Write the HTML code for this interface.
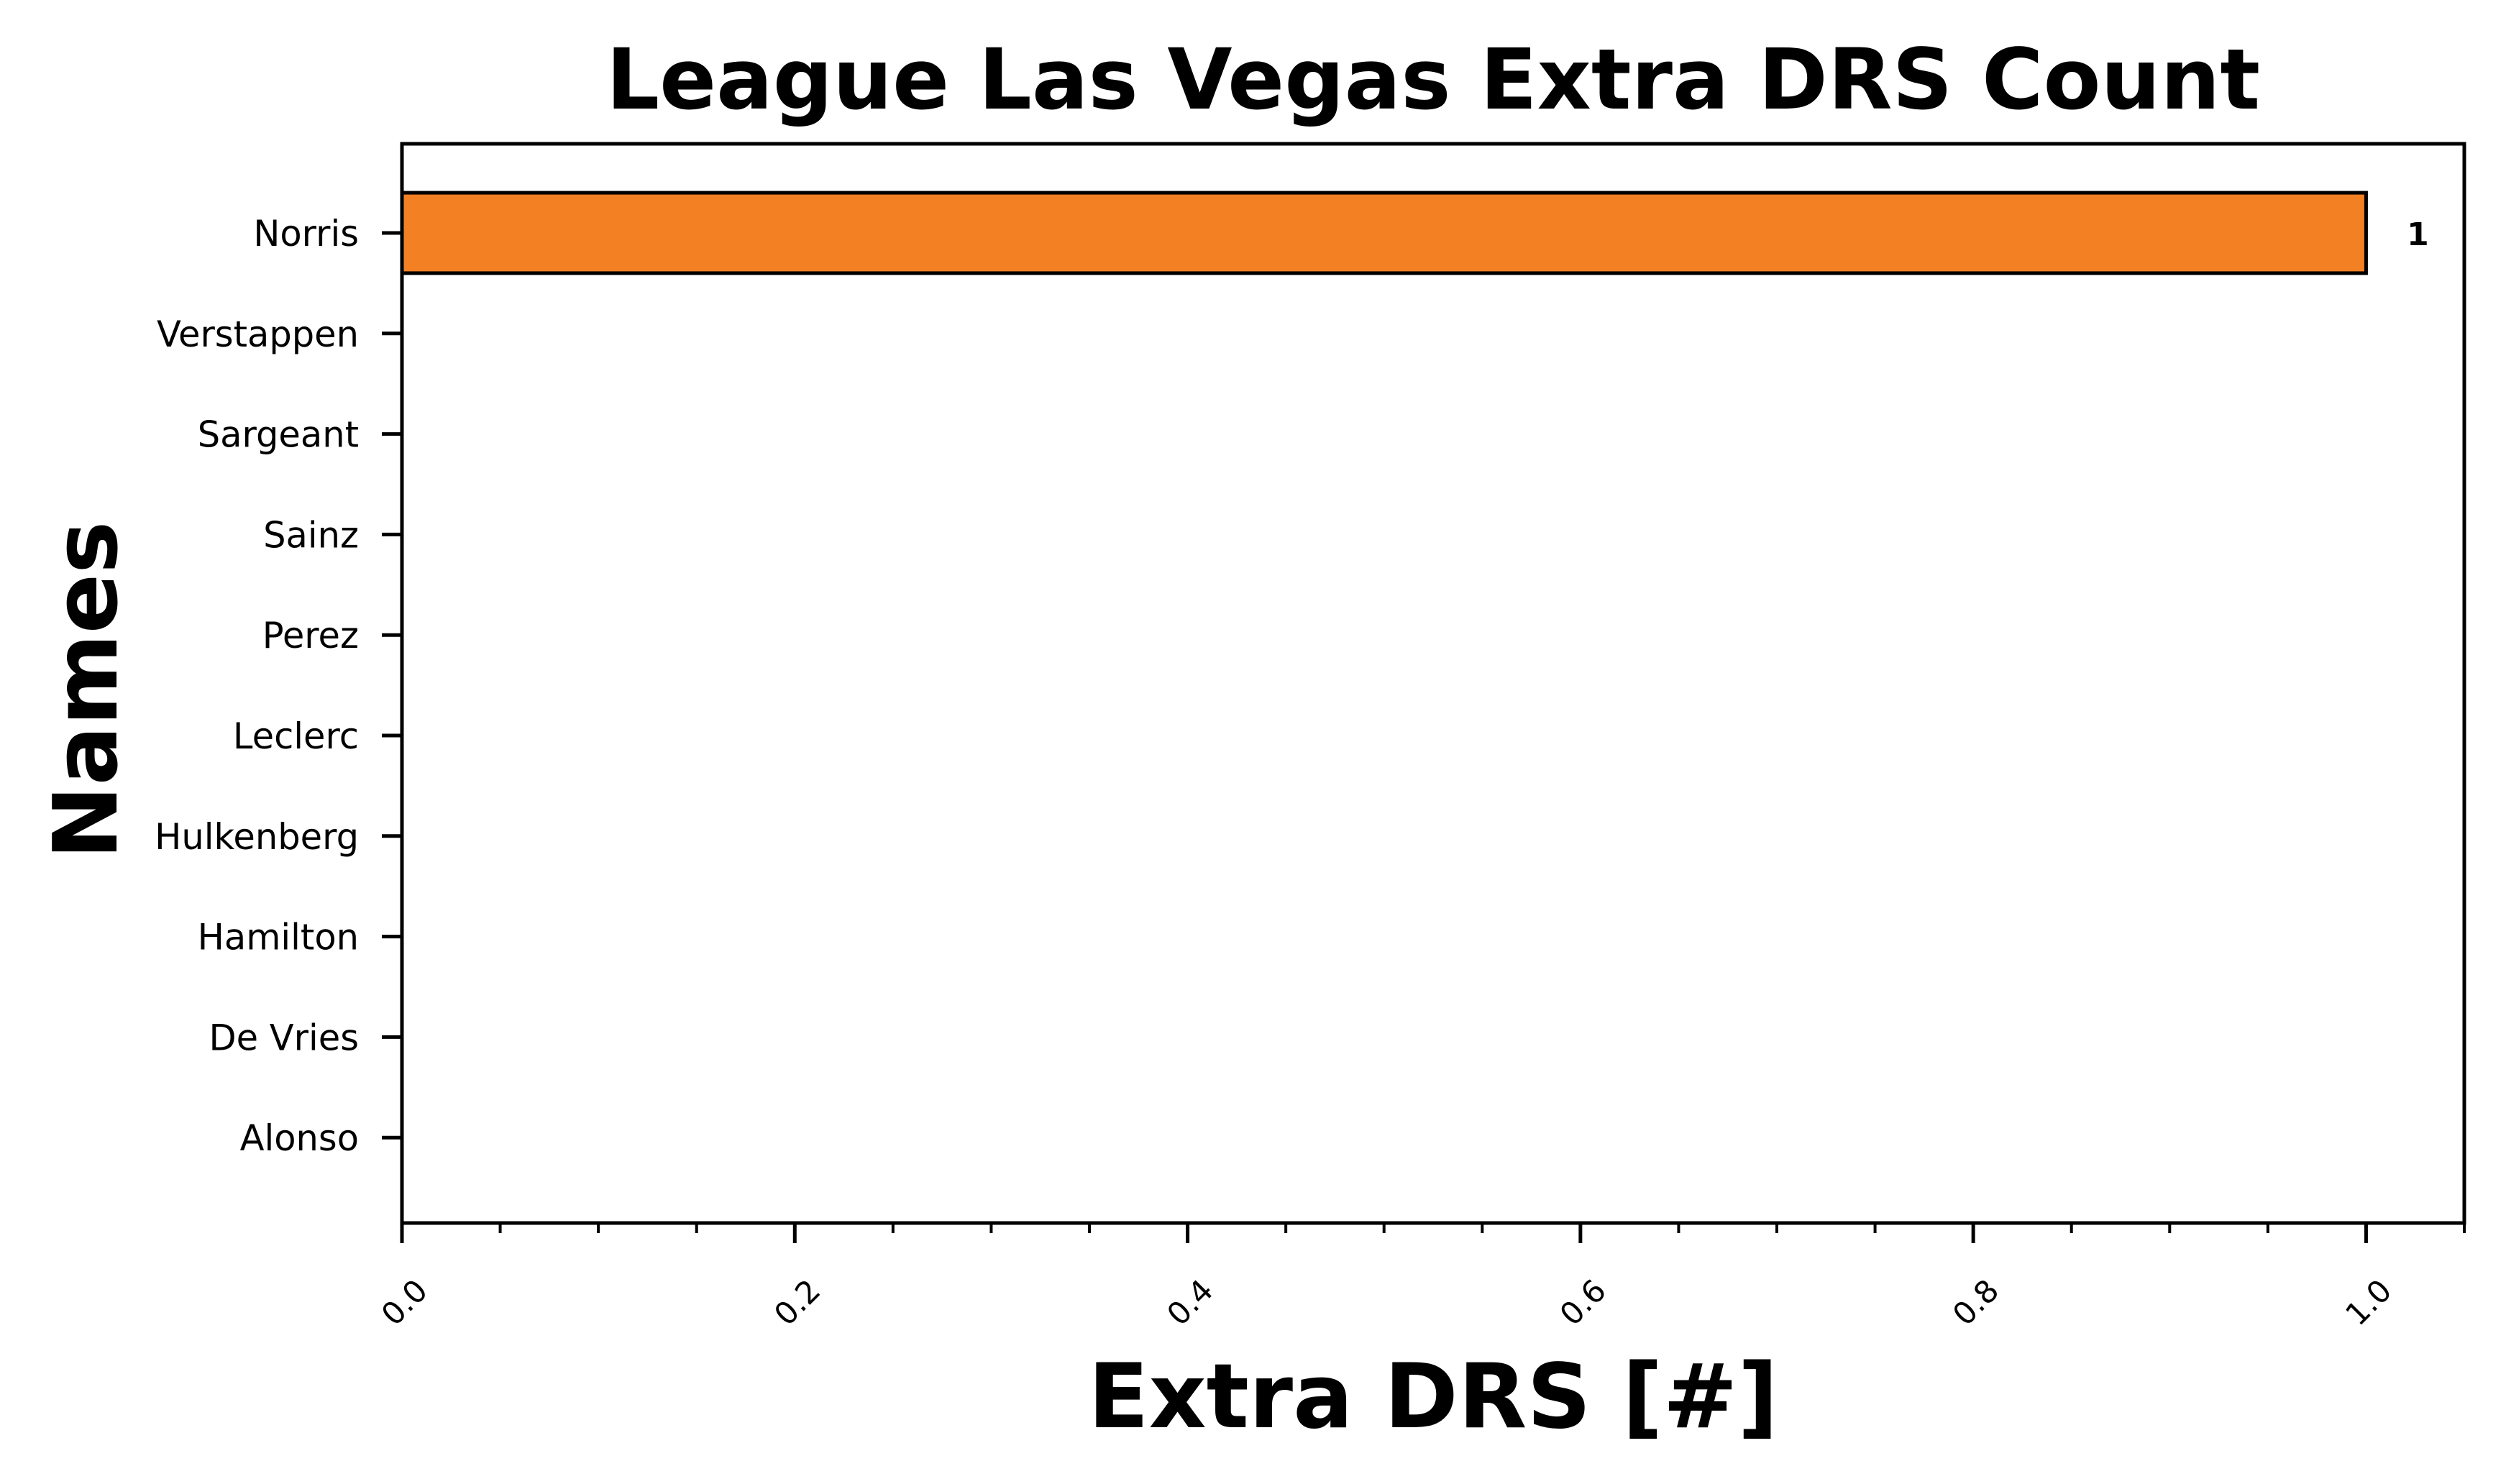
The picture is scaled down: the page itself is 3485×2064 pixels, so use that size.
<!DOCTYPE html>
<html><head><meta charset="utf-8"><style>
html,body{margin:0;padding:0;background:#fff;}
svg{display:block;font-family:"DejaVu Sans","Liberation Sans",sans-serif;}
</style></head><body>
<svg id="chart" width="3485" height="2064" viewBox="0 0 3485 2064" xmlns="http://www.w3.org/2000/svg">
<rect width="3485" height="2064" fill="#fff"/>
<text x="1993" y="151" text-anchor="middle" font-size="116.5" font-weight="bold">League Las Vegas Extra DRS Count</text>
<text x="1993" y="1985" text-anchor="middle" font-size="124" font-weight="bold">Extra DRS [#]</text>
<text x="0" y="0" transform="translate(162,960) rotate(-90)" text-anchor="middle" font-size="123" font-weight="bold">Names</text>
<g id="marks"></g>
<g id="axes"></g>
</svg>
<script>
const names = ["Norris","Verstappen","Sargeant","Sainz","Perez","Leclerc","Hulkenberg","Hamilton","De Vries","Alonso"];
const values = [1,0,0,0,0,0,0,0,0,0];
const xTicks = [0.0,0.2,0.4,0.6,0.8,1.0];
const xTickLabels = ["0.0","0.2","0.4","0.6","0.8","1.0"];

const NS="http://www.w3.org/2000/svg";
const L=559,R=3427,T=200,B=1701;
const xMax=1.05;
function xs(v){return L+v/xMax*(R-L);}
const step=139.8;
function ys(i){return 324+i*step;}
function mk(tag,attrs,parent){const e=document.createElementNS(NS,tag);for(const k in attrs)e.setAttribute(k,attrs[k]);parent.appendChild(e);return e;}
const marks=document.getElementById('marks');
const axes=document.getElementById('axes');
names.forEach((n,i)=>{
  const bw=step*0.8;
  const r=mk('rect',{x:xs(0),y:ys(i)-bw/2,width:xs(values[i])-xs(0),height:bw,fill:'#f48024',stroke:'#000','stroke-width':5},marks);
  
  
  if(values[i]>0){
    const t=mk('text',{x:xs(values[i])+72,y:ys(i)+17,'font-size':44,'font-weight':'bold','text-anchor':'middle'},marks);
    t.textContent=values[i];
    
    
  }
  const tk=mk('line',{x1:L-28,x2:L,y1:ys(i),y2:ys(i),stroke:'#000','stroke-width':5},axes);
  
  
  const lb=mk('text',{x:L-60,y:ys(i)+18,'font-size':49.5,'text-anchor':'end'},axes);
  lb.textContent=n;
  
  
});
for(let k=0;k*0.05<=xMax+1e-9;k++){
  const v=k*0.05;
  if(k%4===0) continue;
  const m=mk('line',{x1:xs(v),x2:xs(v),y1:B,y2:B+14,stroke:'#000','stroke-width':4},axes);
  
  
}
xTicks.forEach((v,i)=>{
  const t=mk('line',{x1:xs(v),x2:xs(v),y1:B,y2:B+28,stroke:'#000','stroke-width':5},axes);
  
  
  const cx=xs(v)+4, cy=1812;
  const lb=mk('text',{x:cx,y:cy+14,'font-size':43,'text-anchor':'middle',transform:'rotate(-45 '+cx+' '+cy+')'},axes);
  lb.textContent=xTickLabels[i];
  
  
});
const fr=mk('rect',{x:L,y:T,width:R-L,height:B-T,fill:'none',stroke:'#000','stroke-width':5},axes);


</script>
</body></html>
